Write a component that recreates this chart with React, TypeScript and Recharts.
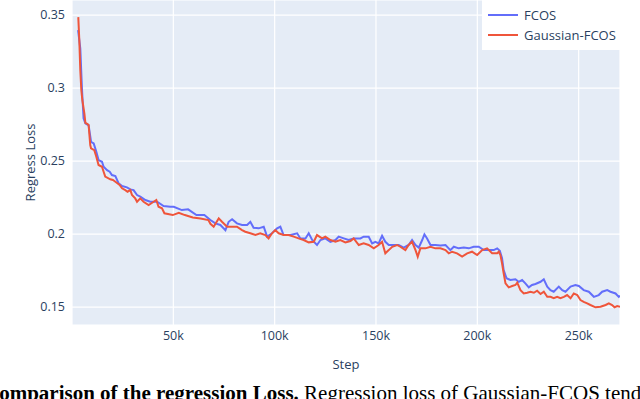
import { LineChart, Line, XAxis, YAxis, CartesianGrid, Label } from "recharts";

const fcosSteps = [
  3000, 4100, 4900, 5700, 6600, 8200, 9400, 10700, 12000, 13100, 14800, 15600, 17300, 18600, 19700,
  21400, 23000, 24700, 27100, 28800, 30400, 32100, 33700, 36200, 38600, 42000, 45200, 48500, 50200,
  54200, 57300, 61400, 65300, 68300, 70700, 73200, 75700, 77300, 79000, 81400, 83900, 86400, 88000,
  89600, 92100, 94600, 96300, 98700, 101200, 102800, 104400, 107800, 111100, 112700, 115200, 116800,
  118500, 120900, 122600, 125000, 127500, 130000, 131600, 134100, 136500, 139000, 142300, 143900,
  146400, 148100, 149700, 151300, 153000, 154600, 156300, 158700, 161200, 163700, 166100, 167800,
  169500, 171100, 172800, 173900, 175200, 176900, 179300, 181800, 184300, 186700, 188400, 190800,
  193300, 195800, 198200, 200700, 203200, 206500, 208100, 209800, 211100, 212200, 213000, 214400,
  216300, 218800, 220400, 222100, 223700, 225400, 227000, 228700, 231200, 232800, 234500, 236100,
  237700, 240200, 241900, 243500, 246000, 248400, 250100, 252500, 255000, 257500, 259900, 261600,
  264100, 265700, 268200, 269800, 270400,
];
const fcosLoss = [
  0.3397, 0.327, 0.3, 0.2792, 0.2758, 0.2745, 0.2632, 0.2621, 0.2564, 0.2507, 0.2495, 0.2461, 0.2438,
  0.2427, 0.2404, 0.2397, 0.2347, 0.2329, 0.232, 0.2306, 0.2301, 0.2267, 0.2256, 0.2233, 0.2221,
  0.2221, 0.2192, 0.2187, 0.2187, 0.2164, 0.2169, 0.213, 0.213, 0.2096, 0.2073, 0.2062, 0.2027,
  0.2084, 0.2101, 0.2073, 0.2062, 0.2062, 0.2084, 0.2043, 0.2039, 0.205, 0.1982, 0.2005, 0.2039,
  0.205, 0.1993, 0.1993, 0.2005, 0.197, 0.197, 0.2005, 0.1959, 0.1925, 0.1959, 0.197, 0.1947, 0.1959,
  0.1982, 0.197, 0.1959, 0.197, 0.197, 0.1982, 0.1982, 0.1936, 0.1947, 0.1936, 0.1988, 0.1947,
  0.1925, 0.1925, 0.1925, 0.1907, 0.1925, 0.1959, 0.1925, 0.1907, 0.1959, 0.1998, 0.197, 0.1925,
  0.1925, 0.1921, 0.1925, 0.189, 0.1913, 0.1902, 0.1907, 0.1902, 0.1913, 0.1913, 0.189, 0.189, 0.189,
  0.1902, 0.1886, 0.1834, 0.1753, 0.1697, 0.1685, 0.169, 0.1673, 0.1685, 0.1662, 0.1635, 0.1651,
  0.1658, 0.1673, 0.169, 0.164, 0.1616, 0.1605, 0.164, 0.1616, 0.1605, 0.164, 0.1651, 0.1644, 0.1616,
  0.1605, 0.157, 0.1582, 0.1605, 0.1616, 0.1605, 0.1593, 0.157, 0.1578,
];

const gaussSteps = [
  3100, 3600, 4100, 4600, 5100, 6100, 6600, 7700, 8200, 9000, 9400, 11000, 12000, 13100, 14800, 15600,
  16400, 18900, 20200, 21400, 23500, 24700, 26300, 27400, 28800, 29600, 31200, 32100, 33700, 35300,
  37800, 40300, 41600, 42700, 44400, 45600, 49700, 52700, 55700, 59600, 63400, 67300, 68300, 69900,
  72400, 74000, 76500, 79000, 81400, 83900, 85500, 88000, 90500, 92900, 95400, 97000, 98700, 100300,
  102000, 104400, 106900, 109400, 111800, 114300, 116800, 119300, 120900, 123400, 125000, 127500,
  130000, 132400, 134900, 137400, 139000, 141500, 143900, 146400, 148900, 151300, 153000, 154600,
  156300, 158000, 160400, 162000, 164500, 166100, 167800, 169500, 170600, 171900, 174400, 176900,
  179300, 181800, 184300, 185900, 187600, 190000, 192500, 195000, 197400, 199900, 202400, 204800,
  207300, 209800, 210600, 211400, 212200, 213000, 213900, 215500, 217200, 218800, 219700, 221300,
  222900, 224600, 226200, 227900, 229500, 231200, 232800, 234500, 236100, 237700, 239400, 241000,
  242700, 244300, 246000, 247600, 249300, 250900, 252500, 254200, 255800, 258300, 260800, 263300,
  264900, 266500, 267700, 269000, 270400,
];
const gaussLoss = [
  0.3486, 0.333, 0.312, 0.2986, 0.2918, 0.2827, 0.2762, 0.2753, 0.2747, 0.261, 0.2587, 0.2575, 0.2529,
  0.2473, 0.2461, 0.2427, 0.2393, 0.2375, 0.237, 0.2358, 0.2336, 0.2313, 0.2301, 0.229, 0.2301,
  0.2267, 0.2244, 0.2221, 0.2244, 0.2221, 0.2199, 0.2221, 0.2233, 0.2187, 0.2176, 0.2142, 0.213,
  0.2146, 0.213, 0.2114, 0.2107, 0.2096, 0.207, 0.205, 0.2107, 0.2084, 0.205, 0.205, 0.205, 0.2027,
  0.2016, 0.2005, 0.1993, 0.2005, 0.1993, 0.197, 0.2005, 0.2027, 0.2005, 0.1993, 0.1993, 0.1982,
  0.197, 0.1959, 0.1943, 0.1947, 0.1993, 0.197, 0.1982, 0.1959, 0.1947, 0.1959, 0.1943, 0.1952,
  0.197, 0.1925, 0.1936, 0.1925, 0.1902, 0.1925, 0.1947, 0.1868, 0.189, 0.1913, 0.1925, 0.1913,
  0.189, 0.1925, 0.1947, 0.189, 0.1845, 0.1902, 0.1902, 0.1913, 0.1902, 0.1902, 0.189, 0.1868,
  0.1879, 0.1868, 0.1845, 0.1868, 0.1879, 0.1856, 0.189, 0.1902, 0.1868, 0.1868, 0.1879, 0.1856,
  0.18, 0.1731, 0.1662, 0.1635, 0.1644, 0.1651, 0.1667, 0.1616, 0.1593, 0.1598, 0.1605, 0.1598,
  0.1612, 0.1589, 0.1605, 0.157, 0.157, 0.156, 0.157, 0.156, 0.157, 0.1582, 0.156, 0.1593, 0.1582,
  0.1548, 0.1536, 0.1525, 0.1514, 0.1498, 0.1502, 0.1514, 0.1525, 0.1514, 0.1498, 0.1507, 0.1502,
];

const xTicks = [50000, 100000, 150000, 200000, 250000];
const yTicks = [0.15, 0.2, 0.25, 0.3, 0.35];

const fcosData = fcosSteps.map((step, i) => ({ step, loss: fcosLoss[i] }));
const gaussData = gaussSteps.map((step, i) => ({ step, loss: gaussLoss[i] }));

const BLUE = "#636efa";
const RED = "#ef553b";
const INK = "#2a3f5f";
const PLOT_BG = "#e5ecf6";
const FONT = '"Open Sans", verdana, arial, sans-serif';

const legendItems = [
  { name: "FCOS", color: BLUE },
  { name: "Gaussian-FCOS", color: RED },
];

function LegendBox() {
  return (
    <div
      style={{
        position: "absolute",
        left: 482,
        top: 0,
        background: "#fff",
        width: 138,
        height: 50,
        paddingTop: 5,
        boxSizing: "border-box",
        fontFamily: FONT,
      }}
    >
      {legendItems.map((it) => (
        <div key={it.name} style={{ display: "flex", alignItems: "center", height: 20 }}>
          <div style={{ width: 30, height: 2, background: it.color, marginLeft: 6, marginRight: 6 }} />
          <span style={{ fontSize: 13, color: INK }}>{it.name}</span>
        </div>
      ))}
    </div>
  );
}

export default function App() {
  return (
    <div style={{ position: "fixed", left: 0, top: 0, width: 640, height: 399, overflow: "hidden", background: "#fff" }}>
      {/* plot background sits behind the transparent chart svg */}
      <div style={{ position: "absolute", left: 72, top: 0, width: 548, height: 325, background: PLOT_BG }} />
      <div style={{ position: "absolute", left: 0, top: 0 }}>
        <LineChart
          width={640}
          height={399}
          margin={{ top: 0, right: 20, bottom: 0, left: 0 }}
          style={{ fontFamily: FONT }}
        >
          <CartesianGrid stroke="#ffffff" strokeWidth={1.2} strokeOpacity={1} />
          <XAxis
            dataKey="step"
            type="number"
            domain={[0, 270400]}
            allowDataOverflow
            ticks={xTicks}
            tickFormatter={(v) => `${v / 1000}k`}
            axisLine={false}
            tickLine={false}
            tickSize={0}
            tickMargin={6}
            height={74}
            tick={{ fill: INK, fontSize: 12.5 }}
          >
            <Label value="Step" position="insideBottom" offset={30} fill={INK} fontSize={13} />
          </XAxis>
          <YAxis
            type="number"
            domain={[0.1377, 0.3603]}
            allowDataOverflow
            ticks={yTicks}
            tickFormatter={(v) => String(v)}
            axisLine={false}
            tickLine={false}
            tickSize={0}
            tickMargin={7}
            width={72}
            tick={{ fill: INK, fontSize: 12.5 }}
          >
            <Label
              value="Regress Loss"
              angle={-90}
              position="insideLeft"
              offset={30}
              fill={INK}
              fontSize={13}
              style={{ textAnchor: "middle" }}
            />
          </YAxis>
          <Line
            data={fcosData}
            dataKey="loss"
            name="FCOS"
            stroke={BLUE}
            strokeWidth={2}
            dot={false}
            isAnimationActive={false}
          />
          <Line
            data={gaussData}
            dataKey="loss"
            name="Gaussian-FCOS"
            stroke={RED}
            strokeWidth={2}
            dot={false}
            isAnimationActive={false}
          />
        </LineChart>
      </div>
      <LegendBox />
      <svg width={640} height={399} style={{ position: "absolute", left: 0, top: 0, pointerEvents: "none" }}>
        <text x={-16} y={400} fontFamily='"Liberation Serif", "Times New Roman", serif' fontSize={21} fill="#000">
          <tspan fontWeight="bold">Comparison of the regression Loss.</tspan>
          <tspan> Regression loss of Gaussian-FCOS tends to be lower</tspan>
        </text>
      </svg>
    </div>
  );
}
